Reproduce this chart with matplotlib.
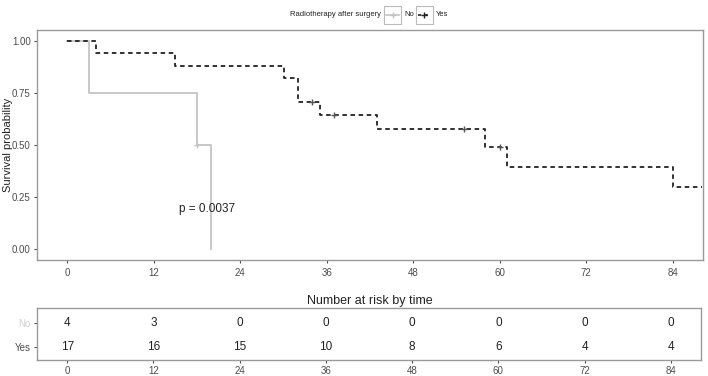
import numpy as np
import matplotlib
matplotlib.use("Agg")
import matplotlib.pyplot as plt
from matplotlib.patches import Rectangle
from matplotlib.lines import Line2D

plt.rcParams['font.family'] = ['Liberation Sans', 'DejaVu Sans']

# Kaplan-Meier curves
no_time = [0, 3, 18, 20]
no_surv = [1.0, 0.75, 0.5, 0.0]
no_cens_t = [18]
no_cens_s = [0.5]

yes_time = [0, 4, 15, 30, 32, 35, 43, 58, 61, 84, 88]
yes_surv = [1.0, 0.941, 0.882, 0.824, 0.706, 0.642, 0.578, 0.491, 0.396, 0.296, 0.296]
yes_cens_t = [34, 37, 55, 60]
yes_cens_s = [0.706, 0.642, 0.578, 0.491]

# number at risk table
risk_times = [0, 12, 24, 36, 48, 60, 72, 84]
risk_no = [4, 3, 0, 0, 0, 0, 0, 0]
risk_yes = [17, 16, 15, 10, 8, 6, 4, 4]

p_text = "p = 0.0037"

c_no = "#c4c4c4"
c_yes = "#222222"
c_border = "#9a9a9a"
c_tick = "#4d4d4d"

fig = plt.figure(figsize=(7.08, 3.76), dpi=100)
W, H = 708, 376

def px_axes(l, t, r, b):
    return fig.add_axes([l / W, 1 - b / H, (r - l) / W, (b - t) / H])

ax = px_axes(37, 30, 703, 260)
ax.step(no_time, no_surv, where="post", color=c_no, lw=1.3)
ax.plot(no_cens_t, no_cens_s, ls="none", marker="+", ms=5, mew=1, color=c_no)
ax.step(yes_time, yes_surv, where="post", color=c_yes, lw=1.3, ls=(0, (2.5, 2)))
ax.plot(yes_cens_t, yes_cens_s, ls="none", marker="+", ms=5, mew=1, color="#555555")
ax.text(19.4, 0.19, p_text, ha="center", va="center", fontsize=8.5, color="#222222")

ax.set_xlim(-4.2, 88.2)
ax.set_ylim(-0.053, 1.053)
ax.set_xticks(risk_times)
ax.set_yticks([0, 0.25, 0.5, 0.75, 1.0])
ax.set_yticklabels(["0.00", "0.25", "0.50", "0.75", "1.00"])
ax.tick_params(labelsize=7, colors=c_tick, length=2.5, width=0.8, pad=2)
ax.tick_params(axis="x", pad=3)
for s in ax.spines.values():
    s.set_color(c_border)
    s.set_linewidth(1)
fig.text(8 / W, 1 - 145 / H, "Survival probability", rotation=90, ha="center", va="center",
         fontsize=8, color="#222222")

# risk table
rt = px_axes(37, 308, 701, 360)
for t, n in zip(risk_times, risk_no):
    rt.text(t, 1, str(n), ha="center", va="center", fontsize=8.5, color="#222222")
for t, n in zip(risk_times, risk_yes):
    rt.text(t, 0, str(n), ha="center", va="center", fontsize=8.5, color="#222222")
rt.set_xlim(-4.2, 88.2)
rt.set_ylim(-0.54, 1.62)
rt.set_xticks(risk_times)
rt.set_yticks([1, 0])
rt.set_yticklabels(["No", "Yes"])
rt.tick_params(labelsize=7, colors=c_tick, length=2.5, width=0.8, pad=2)
rt.get_yticklabels()[0].set_color("#d0d0d0")
for s in rt.spines.values():
    s.set_color(c_border)
    s.set_linewidth(1)
fig.text(370 / W, 1 - 301 / H, "Number at risk by time", ha="center", va="center",
         fontsize=9, color="#222222")

# legend on top
fig.text(335 / W, 1 - 15 / H, "Radiotherapy after surgery", ha="center", va="center",
         fontsize=5.5, color="#222222")

def key(x0, x1, color, ls):
    y0, y1 = 1 - 24 / H, 1 - 6 / H
    fig.add_artist(Rectangle((x0 / W, y0), (x1 - x0) / W, y1 - y0, transform=fig.transFigure,
                             fill=False, ec="#bbbbbb", lw=0.8))
    ym = (y0 + y1) / 2
    fig.add_artist(Line2D([(x0 + 2) / W, (x1 - 2) / W], [ym, ym], transform=fig.transFigure,
                          color=color, lw=1.2, ls=ls))
    fig.add_artist(Line2D([(x0 + x1) / 2 / W], [ym], transform=fig.transFigure,
                          color=color, marker="+", ms=5, mew=1, ls="none"))

key(384, 401, c_no, "-")
fig.text(404 / W, 1 - 15 / H, "No", ha="left", va="center", fontsize=5.5, color="#222222")
key(416, 433, c_yes, (0, (2, 2)))
fig.text(436 / W, 1 - 15 / H, "Yes", ha="left", va="center", fontsize=5.5, color="#222222")

fig.savefig("out.png", dpi=100)
